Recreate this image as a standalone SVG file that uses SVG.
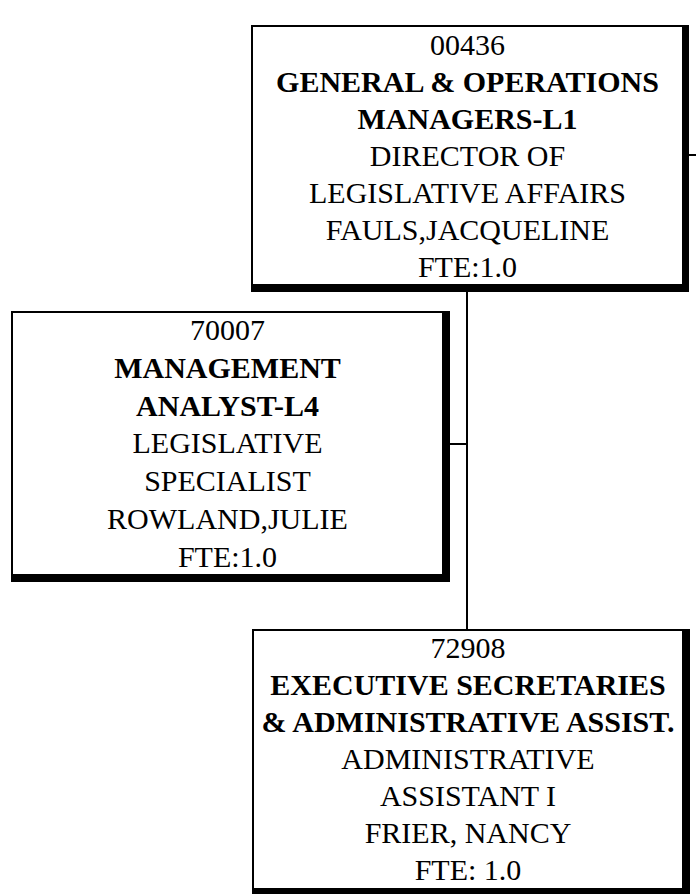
<svg xmlns="http://www.w3.org/2000/svg" width="696" height="894" viewBox="0 0 696 894">
  <style>
    .frame { fill: #000; }
    .face { fill: #fff; }
    .wire { stroke: #000; stroke-width: 2; fill: none; }
    .lbl { font-size: 30px; fill: #000; text-anchor: middle; }
    .b { font-weight: bold; }
  </style>
  <rect width="696" height="894" fill="#fff"/>

  <!-- reporting lines -->
  <g id="connectors">
    <line class="wire" x1="467" y1="290" x2="467" y2="631"/>
    <line class="wire" x1="448" y1="444" x2="468" y2="444"/>
    <line class="wire" x1="687" y1="155" x2="696" y2="155"/>
  </g>

  <g class="lbl" font-family="Liberation Serif, Tinos, Times New Roman, DejaVu Serif, serif">
    <!-- director -->
    <g id="node-00436">
      <rect class="frame" x="251" y="25" width="438" height="267"/>
      <rect class="face" x="253" y="27" width="429" height="257"/>
      <text x="467.5" y="55">00436</text>
      <text class="b" x="467.5" y="92">GENERAL &amp; OPERATIONS</text>
      <text class="b" x="467.5" y="129">MANAGERS-L1</text>
      <text x="467.5" y="166">DIRECTOR OF</text>
      <text x="467.5" y="203">LEGISLATIVE AFFAIRS</text>
      <text x="467.5" y="240">FAULS,JACQUELINE</text>
      <text x="467.5" y="277">FTE:1.0</text>
    </g>

    <!-- legislative specialist -->
    <g id="node-70007">
      <rect class="frame" x="11" y="311" width="439" height="271"/>
      <rect class="face" x="13" y="313" width="429" height="261"/>
      <text x="227.5" y="340">70007</text>
      <text class="b" x="227.5" y="378">MANAGEMENT</text>
      <text class="b" x="227.5" y="416">ANALYST-L4</text>
      <text x="227.5" y="453">LEGISLATIVE</text>
      <text x="227.5" y="491">SPECIALIST</text>
      <text x="227.5" y="529">ROWLAND,JULIE</text>
      <text x="227.5" y="567">FTE:1.0</text>
    </g>

    <!-- administrative assistant -->
    <g id="node-72908">
      <rect class="frame" x="252" y="629" width="438" height="265"/>
      <rect class="face" x="254" y="631" width="428" height="257"/>
      <text x="468" y="658">72908</text>
      <text class="b" x="468" y="695">EXECUTIVE SECRETARIES</text>
      <text class="b" x="468" y="732">&amp; ADMINISTRATIVE ASSIST.</text>
      <text x="468" y="769">ADMINISTRATIVE</text>
      <text x="468" y="806">ASSISTANT I</text>
      <text x="468" y="843">FRIER, NANCY</text>
      <text x="468" y="880">FTE: 1.0</text>
    </g>
  </g>
</svg>
